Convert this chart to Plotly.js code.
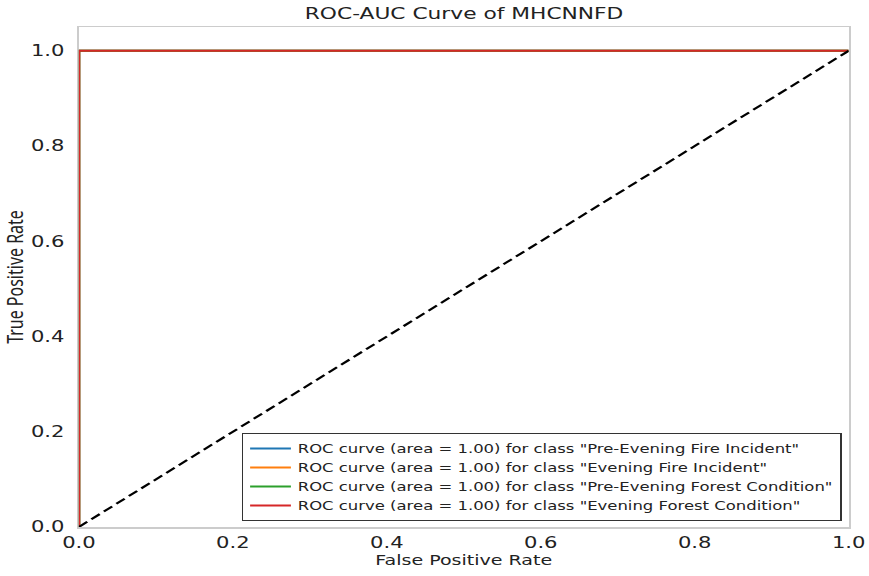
<!DOCTYPE html>
<html><head><meta charset="utf-8">
<script src="https://cdn.plot.ly/plotly-3.0.1.min.js"></script>
<style>
html,body{margin:0;padding:0;background:#fff;overflow:hidden;width:869px;height:576px}
#chart{width:639px;height:576px;transform:scaleX(1.36);transform-origin:0 0}
</style>
</head><body><div id="chart"></div>
<script>
const classNames = ["Pre-Evening Fire Incident", "Evening Fire Incident", "Pre-Evening Forest Condition", "Evening Forest Condition"];
const aucValues = [1.00, 1.00, 1.00, 1.00];
const colors = ["#1f77b4", "#ff7f0e", "#2ca02c", "#d62728"];
const fprPre = [0, 0, 1];
const tprPre = [0, 1, 1];
const fprEve = [0, 0, 1];
const tprEve = [0, 1, 1];
const fprPreForest = [0, 0, 1];
const tprPreForest = [0, 1, 1];
const fprEveForest = [0, 0, 1];
const tprEveForest = [0, 1, 1];
const diagX = [0, 1];
const diagY = [0, 1];
const xTicks = [0, 0.2, 0.4, 0.6, 0.8, 1.0];
const yTicks = [0, 0.2, 0.4, 0.6, 0.8, 1.0];
const tickText = ["0.0", "0.2", "0.4", "0.6", "0.8", "1.0"];

const fprs = [fprPre, fprEve, fprPreForest, fprEveForest];
const tprs = [tprPre, tprEve, tprPreForest, tprEveForest];
const traces = classNames.map((c, i) => ({
  x: fprs[i], y: tprs[i], type: 'scatter', mode: 'lines',
  line: {color: colors[i], width: 2},
  name: 'ROC curve (area = ' + aucValues[i].toFixed(2) + ') for class "' + c + '"'
}));
traces.push({x: diagX, y: diagY, type: 'scatter', mode: 'lines', showlegend: false,
  line: {color: '#000', width: 2, dash: '8px,4px'}});

const FF = 'DejaVu Sans, sans-serif';
const layout = {
  width: 639, height: 576,
  margin: {l: 58, r: 15, t: 27, b: 49},
  paper_bgcolor: '#fff', plot_bgcolor: '#fff',
  font: {family: FF, color: '#222'},
  title: {text: 'ROC-AUC Curve of MHCNNFD', x: 0.534, xanchor: 'center', y: 0.976, yanchor: 'middle',
    font: {family: FF, size: 16, color: '#222'}},
  xaxis: {range: [0, 1], tickvals: xTicks, ticktext: tickText, showgrid: false, zeroline: false,
    showline: true, linecolor: '#cccccc', linewidth: 1.5, mirror: true, layer: 'below traces',
    ticks: 'outside', ticklen: 1, tickcolor: 'rgba(0,0,0,0)',
    tickfont: {size: 15.5, family: FF, color: '#222'},
    title: {text: 'False Positive Rate', standoff: 4, font: {size: 14, family: FF, color: '#222'}}},
  yaxis: {range: [0, 1.05], tickvals: yTicks, ticktext: tickText, showgrid: false, zeroline: false,
    showline: true, linecolor: '#cccccc', linewidth: 1.5, mirror: true, layer: 'below traces',
    ticks: 'outside', ticklen: 6, tickcolor: 'rgba(0,0,0,0)',
    tickfont: {size: 15.5, family: FF, color: '#222'},
    title: {text: 'True Positive Rate', standoff: 3, font: {size: 16, family: 'Noto Sans, sans-serif', color: '#222'}}},
  legend: {x: 0.991, xanchor: 'right', y: 0.012, yanchor: 'bottom',
    bgcolor: '#fff', bordercolor: '#333', borderwidth: 1,
    font: {size: 12.1, family: FF, color: '#222'},
    tracegroupgap: 0}
};
Plotly.newPlot('chart', traces, layout, {displayModeBar: false, staticPlot: true});
</script></body></html>
